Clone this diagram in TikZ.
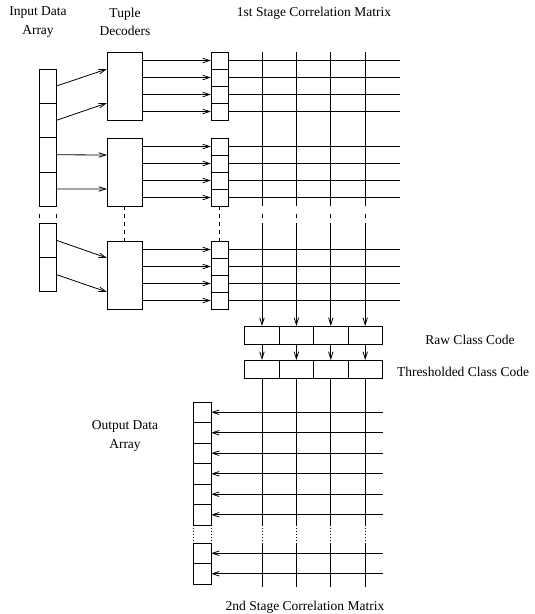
\documentclass[tikz,border=0pt]{standalone}
\usepackage{fontspec}
\setmainfont{Liberation Serif}
\usetikzlibrary{arrows.meta, calc}
\tikzset{
  >={Straight Barb[length=7pt, width=4.5pt]},
  every picture/.style={line cap=butt, line join=miter},
  wire/.style={line width=0.8pt},
  cell/.style={draw, line width=0.8pt, rectangle, inner sep=0pt, outer sep=0pt},
  incell/.style={cell, minimum width=17pt, minimum height=34.3pt},
  deccell/.style={cell, minimum width=35pt, minimum height=68pt},
  smallcell/.style={cell, minimum width=17pt, minimum height=17pt},
  codecell/.style={cell, minimum width=34.4pt, minimum height=18pt},
  outcell/.style={cell, minimum width=18pt, minimum height=20.5pt},
  % breaks in the arrays and matrix lines
  breakdash/.style={line width=0.8pt, dash pattern=on 0pt off 8pt on 4pt off 20pt},
  gapdash/.style={line width=0.8pt, dash pattern=on 4pt off 4pt},
  gapdot/.style={line width=0.8pt, dash pattern=on 1pt off 2pt},
  captext/.style={align=center, inner sep=0pt, font=\fontsize{13.5}{18.5}\selectfont},
}
\begin{document}
\begin{tikzpicture}[x=1pt, y=-1pt]
  \useasboundingbox (0,0) rectangle (535,614);
  \coordinate (mright) at (400,0);
  \coordinate (oright) at (383,0);
  \coordinate (mbottom) at (0,587);
  % input data array
  \foreach \i/\y in {1/86.15, 2/120.45, 3/154.75, 4/189.05, 5/240.15, 6/274.45}
    \node[incell] (ic\i) at (47.5,\y) {};
  \draw[breakdash] (ic4.south west) -- (ic5.north west);
  \draw[breakdash] (ic4.south east) -- (ic5.north east);
  % tuple decoders with their output cells
  \foreach \g/\t in {1/52, 2/138, 3/241} {
    \node[deccell] (dec\g) at (124.5,{\t+34}) {};
    \foreach \k in {1,...,4} {
      \node[smallcell] (sb\g\k) at (219.5,{\t+8.5+17*(\k-1)}) {};
      \draw[wire, ->] (dec\g.east |- sb\g\k.west) -- (sb\g\k.west);
      \draw[wire] (sb\g\k.east) -- (sb\g\k.east -| mright);
    }
  }
  \draw[gapdash] (dec2.south) -- (dec3.north);
  \draw[gapdash] (sb24.south) -- (sb31.north);
  \foreach \i/\g/\f in {1/1/0.25, 2/1/0.75, 3/2/0.25, 4/2/0.75, 5/3/0.25, 6/3/0.75}
    \draw[wire, ->] (ic\i.east) -- ($(dec\g.north west)!\f!(dec\g.south west)$);
  % class code registers
  \foreach \i in {1,...,4} {
    \node[codecell] (rc\i) at ({262+34.4*(\i-1)},335) {};
    \node[codecell] (tc\i) at ({262+34.4*(\i-1)},369) {};
    \draw[wire, ->] (rc\i.south) -- (tc\i.north);
  }
  % output data array
  \foreach \i/\y in {1/412.25, 2/432.75, 3/453.25, 4/473.75, 5/494.25, 6/514.75, 7/553.25, 8/573.75} {
    \node[outcell] (oc\i) at (202,\y) {};
    \draw[wire, ->] (oc\i.east -| oright) -- (oc\i.east);
  }
  \draw[gapdot] (oc6.south west) -- (oc7.north west);
  \draw[gapdot] (oc6.south east) -- (oc7.north east);
  % matrix columns
  \foreach \i in {1,...,4} {
    \draw[wire] (rc\i.north |- sb11.north) -- (rc\i.north |- sb24.south);
    \draw[breakdash] (rc\i.north |- sb24.south) -- (rc\i.north |- ic5.north);
    \draw[wire, ->] (rc\i.north |- ic5.north) -- (rc\i.north);
    \draw[wire] (tc\i.south) -- (tc\i.south |- oc6.south);
    \draw[gapdot] (tc\i.south |- oc6.south) -- (tc\i.south |- oc7.north);
    \draw[wire] (tc\i.south |- oc7.north) -- (tc\i.south |- mbottom);
  }
  % labels
  \node[captext] (inlabel) at (38,22) {Input Data\\Array};
  \node[captext] (declabel) at (125,22) {Tuple\\Decoders};
  \node[captext] (m1label) at (314,13) {1st Stage Correlation Matrix};
  \node[captext] (rawlabel) at (470,340) {Raw Class Code};
  \node[captext] (thrlabel) at (463,372) {Thresholded Class Code};
  \node[captext] (outlabel) at (125,436) {Output Data\\Array};
  \node[captext] (m2label) at (305,607) {2nd Stage Correlation Matrix};
\end{tikzpicture}
\end{document}
